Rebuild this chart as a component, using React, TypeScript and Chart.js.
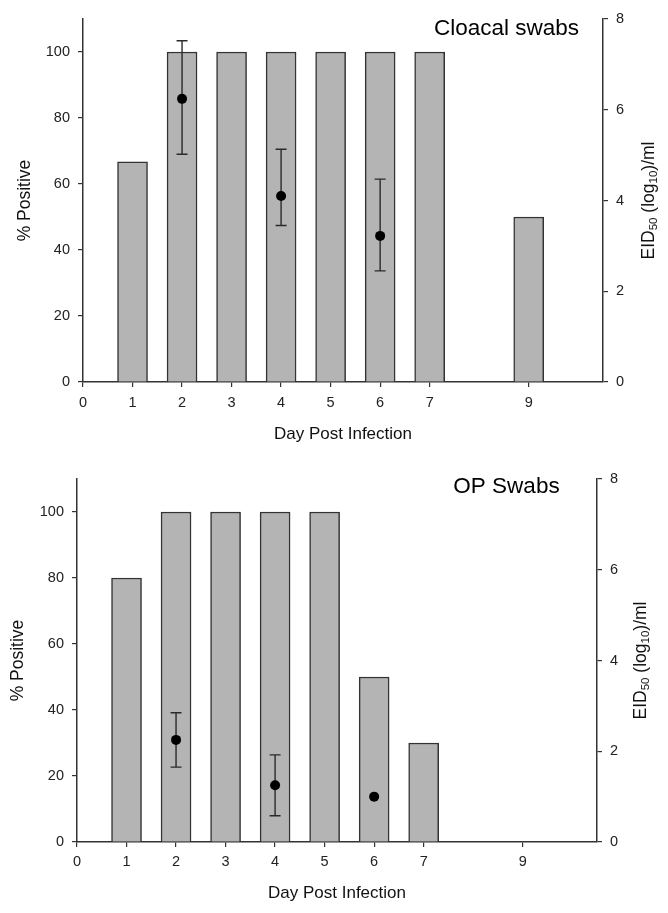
import React, { useEffect, useRef } from 'react';
import { Chart, registerables } from 'chart.js';

Chart.register(...registerables);

// ---- data ----
const xTickValues = [0, 1, 2, 3, 4, 5, 6, 7, 9];
const leftTickValues = [0, 20, 40, 60, 80, 100];
const rightTickValues = [0, 2, 4, 6, 8];

const cloacalDays = [1, 2, 3, 4, 5, 6, 7, 9];
const cloacalPositive = [66.7, 100, 100, 100, 100, 100, 100, 50];
const cloacalTiterDays = [2, 4, 6];
const cloacalTiter = [6.24, 4.1, 3.22];
const cloacalTiterHigh = [7.52, 5.13, 4.47];
const cloacalTiterLow = [5.02, 3.45, 2.45];

const opDays = [1, 2, 3, 4, 5, 6, 7];
const opPositive = [80, 100, 100, 100, 100, 50, 30];
const opTiterDays = [2, 4, 6];
const opTiter = [2.25, 1.25, 1.0];
const opTiterHigh = [2.85, 1.92, null];
const opTiterLow = [1.65, 0.58, null];

const FONT = "'Liberation Sans', Arial, Helvetica, sans-serif";
const AXIS = '#333333';

const errorBarPlugin = {
  id: 'errorBars',
  beforeDatasetDraw(chart: any, args: any) {
    const ds: any = chart.data.datasets[args.index];
    if (!ds.errHigh) return;
    const meta = chart.getDatasetMeta(args.index);
    const scale = chart.scales[ds.yAxisID];
    const ctx = chart.ctx;
    ctx.save();
    ctx.strokeStyle = '#2a2a2a';
    ctx.lineWidth = 1.4;
    meta.data.forEach((pt: any, i: number) => {
      const hi = ds.errHigh[i];
      const lo = ds.errLow[i];
      if (hi == null || lo == null) return;
      const x = pt.x;
      const yh = scale.getPixelForValue(hi);
      const yl = scale.getPixelForValue(lo);
      ctx.beginPath();
      ctx.moveTo(x, yh);
      ctx.lineTo(x, yl);
      ctx.moveTo(x - 5.5, yh);
      ctx.lineTo(x + 5.5, yh);
      ctx.moveTo(x - 5.5, yl);
      ctx.lineTo(x + 5.5, yl);
      ctx.stroke();
    });
    ctx.restore();
  },
};

const labelsPlugin = {
  id: 'panelLabels',
  afterDraw(chart: any) {
    const o = chart.config.options.panelInfo;
    if (!o) return;
    const ctx = chart.ctx;
    const area = chart.chartArea;
    ctx.save();
    // panel title
    ctx.fillStyle = '#000';
    ctx.font = `22.5px ${FONT}`;
    ctx.textAlign = 'center';
    ctx.textBaseline = 'middle';
    ctx.fillText(o.title, o.titleX, area.top + o.titleDy);
    // right axis title with subscripts
    const cx = area.right + o.rightTitleDx;
    const cy = (area.top + area.bottom) / 2;
    const big = `17.5px ${FONT}`;
    const small = `11.5px ${FONT}`;
    const parts: [string, boolean][] = [
      ['EID', false],
      ['50', true],
      [' (log', false],
      ['10', true],
      [')/ml', false],
    ];
    let total = 0;
    parts.forEach(([t, sub]) => {
      ctx.font = sub ? small : big;
      total += ctx.measureText(t).width;
    });
    ctx.fillStyle = '#111';
    ctx.translate(cx, cy);
    ctx.rotate(-Math.PI / 2);
    ctx.textAlign = 'left';
    ctx.textBaseline = 'alphabetic';
    let x = -total / 2;
    parts.forEach(([t, sub]) => {
      ctx.font = sub ? small : big;
      ctx.fillText(t, x, sub ? 9 : 6);
      x += ctx.measureText(t).width;
    });
    ctx.restore();
  },
};

type PanelProps = {
  title: string;
  days: number[];
  positive: number[];
  titerDays: number[];
  titer: number[];
  titerHigh: (number | null)[];
  titerLow: (number | null)[];
  height: number;
  padLeft: number;
  padTop: number;
  leftWidth: number;
  rightWidth: number;
  xHeight: number;
  xTickPad: number;
  xTitlePad: number;
  titleX: number;
  titleDy: number;
  rightTitleDx: number;
};

function Panel(p: PanelProps) {
  const ref = useRef<HTMLCanvasElement | null>(null);
  useEffect(() => {
    if (!ref.current) return;
    const gridOpts = {
      display: true,
      drawOnChartArea: false,
      drawTicks: true,
      tickLength: 5,
      color: AXIS,
      lineWidth: 1.2,
    };
    const tickFont = { family: FONT, size: 14.5 };
    const chart = new Chart(ref.current, {
      type: 'bar',
      data: {
        datasets: [
          {
            type: 'scatter',
            label: 'EID50',
            data: p.titerDays.map((d, i) => ({ x: d, y: p.titer[i] })),
            xAxisID: 'x',
            yAxisID: 'y2',
            backgroundColor: '#000',
            borderColor: '#000',
            pointRadius: 5,
            pointBorderWidth: 0,
            order: 1,
            errHigh: p.titerHigh,
            errLow: p.titerLow,
          } as any,
          {
            type: 'bar',
            label: '% Positive',
            data: p.days.map((d, i) => ({ x: d, y: p.positive[i] })),
            xAxisID: 'x',
            yAxisID: 'y',
            backgroundColor: '#b4b4b4',
            borderColor: '#333333',
            borderWidth: 1.5,
            borderSkipped: 'bottom',
            barThickness: 30,
            order: 2,
          } as any,
        ],
      },
      options: {
        responsive: false,
        animation: false,
        events: [],
        layout: { padding: { left: p.padLeft, top: p.padTop, right: 0, bottom: 0 } },
        plugins: { legend: { display: false }, tooltip: { enabled: false } },
        panelInfo: { title: p.title, titleX: p.titleX, titleDy: p.titleDy, rightTitleDx: p.rightTitleDx },
        scales: {
          x: {
            type: 'linear',
            position: 'bottom',
            min: 0,
            max: 10.5,
            offset: false,
            grid: { ...gridOpts, offset: false },
            border: { display: true, color: AXIS, width: 1.5 },
            afterBuildTicks: (s: any) => {
              s.ticks = xTickValues.map((v) => ({ value: v }));
            },
            afterFit: (s: any) => {
              s.height = p.xHeight;
            },
            ticks: {
              autoSkip: false,
              maxRotation: 0,
              padding: p.xTickPad,
              color: '#222',
              font: tickFont,
            },
            title: {
              display: true,
              text: 'Day Post Infection',
              color: '#111',
              font: { family: FONT, size: 17 },
              padding: { top: 0, bottom: p.xTitlePad },
            },
          },
          y: {
            type: 'linear',
            position: 'left',
            min: 0,
            max: 110,
            grid: gridOpts,
            border: { display: true, color: AXIS, width: 1.5 },
            afterBuildTicks: (s: any) => {
              s.ticks = leftTickValues.map((v) => ({ value: v }));
            },
            afterFit: (s: any) => {
              s.width = p.leftWidth;
            },
            ticks: {
              padding: 8,
              color: '#222',
              font: tickFont,
            },
            title: {
              display: true,
              text: '% Positive',
              color: '#111',
              font: { family: FONT, size: 17.5 },
              padding: { top: 0, bottom: 0 },
            },
          },
          y2: {
            type: 'linear',
            position: 'right',
            min: 0,
            max: 8,
            grid: gridOpts,
            border: { display: true, color: AXIS, width: 1.5 },
            afterBuildTicks: (s: any) => {
              s.ticks = rightTickValues.map((v) => ({ value: v }));
            },
            afterFit: (s: any) => {
              s.width = p.rightWidth;
            },
            ticks: {
              padding: 8,
              color: '#222',
              font: tickFont,
            },
          },
        },
      } as any,
      plugins: [errorBarPlugin, labelsPlugin],
    });
    return () => chart.destroy();
  }, []);
  return <canvas ref={ref} width={668} height={p.height} style={{ display: 'block' }} />;
}

export default function App() {
  return (
    <div style={{ position: 'absolute', left: 0, top: 0, width: 668, height: 913, background: '#fff' }}>
      <div style={{ position: 'absolute', left: 0, top: 0 }}>
        <Panel
          title="Cloacal swabs"
          days={cloacalDays}
          positive={cloacalPositive}
          titerDays={cloacalTiterDays}
          titer={cloacalTiter}
          titerHigh={cloacalTiterHigh}
          titerLow={cloacalTiterLow}
          height={456}
          padLeft={15}
          padTop={19}
          leftWidth={68}
          rightWidth={65}
          xHeight={74}
          xTickPad={7.6}
          xTitlePad={11.8}
          titleX={506.5}
          titleDy={10}
          rightTitleDx={45}
        />
      </div>
      <div style={{ position: 'absolute', left: 0, top: 456 }}>
        <Panel
          title="OP Swabs"
          days={opDays}
          positive={opPositive}
          titerDays={opTiterDays}
          titer={opTiter}
          titerHigh={opTiterHigh}
          titerLow={opTiterLow}
          height={457}
          padLeft={8}
          padTop={23}
          leftWidth={69}
          rightWidth={71}
          xHeight={71}
          xTickPad={6.6}
          xTitlePad={9.8}
          titleX={506.5}
          titleDy={8}
          rightTitleDx={43}
        />
      </div>
    </div>
  );
}
